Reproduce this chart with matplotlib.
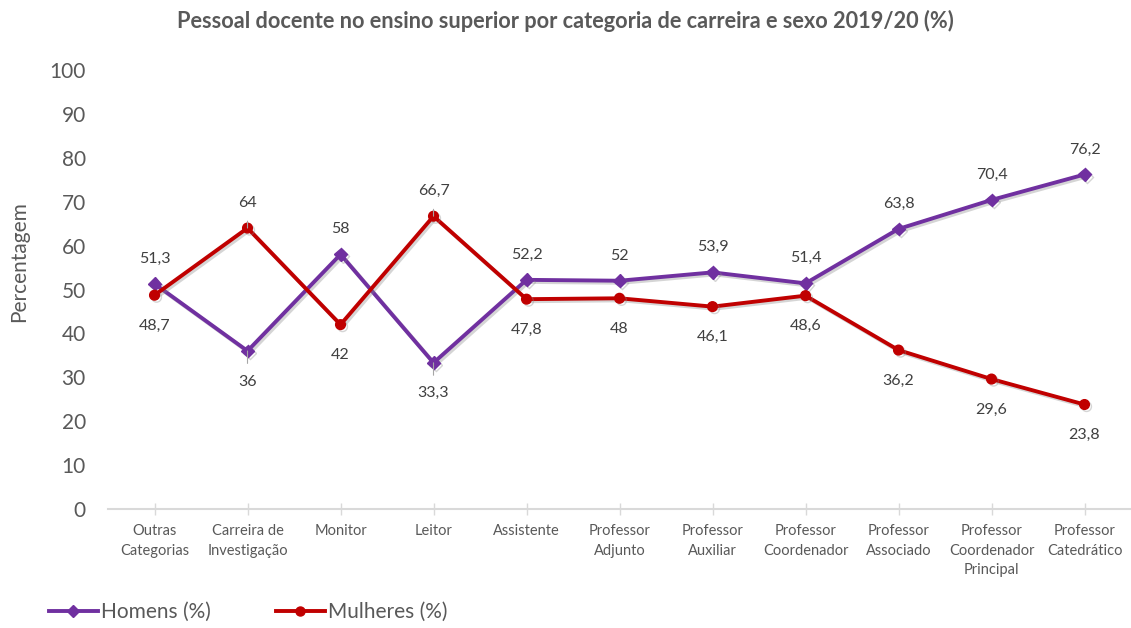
import matplotlib
matplotlib.use("Agg")
import matplotlib.pyplot as plt
import matplotlib.patheffects as pe
from matplotlib.lines import Line2D

plt.rcParams['font.family'] = ['Lato', 'DejaVu Sans']

categorias = ["Outras\nCategorias", "Carreira de\nInvestigação", "Monitor", "Leitor",
              "Assistente", "Professor\nAdjunto", "Professor\nAuxiliar",
              "Professor\nCoordenador", "Professor\nAssociado",
              "Professor\nCoordenador\nPrincipal", "Professor\nCatedrático"]
homens = [51.3, 36, 58, 33.3, 52.2, 52, 53.9, 51.4, 63.8, 70.4, 76.2]
mulheres = [48.7, 64, 42, 66.7, 47.8, 48, 46.1, 48.6, 36.2, 29.6, 23.8]
yticks = [0, 10, 20, 30, 40, 50, 60, 70, 80, 90, 100]

titulo = "Pessoal docente no ensino superior por categoria de carreira e sexo 2019/20 (%)"
c_h = "#7030A0"
c_m = "#C00000"
txt = "#595959"

fig = plt.figure(figsize=(11.31, 6.28), dpi=100)
ax = fig.add_axes([0.0955, 0.1895, 0.9045, 0.699])

x = list(range(len(categorias)))
shadow = [pe.SimpleLineShadow(offset=(1.5, -1.5), shadow_color='#888888', alpha=0.35), pe.Normal()]
ax.plot(x, homens, color=c_h, lw=2.8, marker='D', ms=6.5, zorder=3, path_effects=shadow)
ax.plot(x, mulheres, color=c_m, lw=2.8, marker='o', ms=7, zorder=4, path_effects=shadow)

def fmt(v):
    s = f"{v:g}"
    return s.replace('.', ',')

leader = {1, 3}
for i in x:
    for v, other in ((homens[i], mulheres[i]), (mulheres[i], homens[i])):
        above = v >= other
        dy = 18 if above else -22
        kw = {}
        if i in leader:
            kw['arrowprops'] = dict(arrowstyle='-', color='#A6A6A6', lw=0.8, shrinkA=6, shrinkB=0)
        ax.annotate(fmt(v), xy=(i, v), xytext=(0, dy), textcoords='offset points',
                    ha='center', va='center', fontsize=11.5, color='#404040', zorder=5, **kw)

ax.set_xlim(-0.5, len(categorias) - 0.5)
ax.set_ylim(0, 100)
ax.set_yticks(yticks)
ax.set_yticklabels([str(t) for t in yticks], fontsize=15, color=txt)
ax.tick_params(axis='y', length=0, pad=16)
ax.set_xticks(x)
ax.set_xticklabels(categorias, fontsize=10.5, color=txt, linespacing=1.5)
ax.tick_params(axis='x', length=8, direction='inout', color='#D9D9D9', width=1, pad=7)
for s in ['top', 'right', 'left']:
    ax.spines[s].set_visible(False)
ax.spines['bottom'].set_color('#D9D9D9')
ax.spines['bottom'].set_linewidth(1.5)
ax.set_ylabel("Percentagem", fontsize=15, color=txt)
ax.yaxis.set_label_coords(-0.077, 0.563)

fig.text(0.5, 0.966, titulo, ha='center', va='center', fontsize=15.7,
         fontweight='bold', color=txt)

handles = [Line2D([], [], color=c_h, lw=2.8, marker='D', ms=6),
           Line2D([], [], color=c_m, lw=2.8, marker='o', ms=6.5)]
fig.legend(handles, ["Homens (%)", "Mulheres (%)"], loc='center left',
           bbox_to_anchor=(0.0264, 0.025), ncol=2, frameon=False, fontsize=15,
           labelcolor=txt, handlelength=2.37, handletextpad=0.15, columnspacing=3.1)

fig.savefig("out.png", dpi=100)
